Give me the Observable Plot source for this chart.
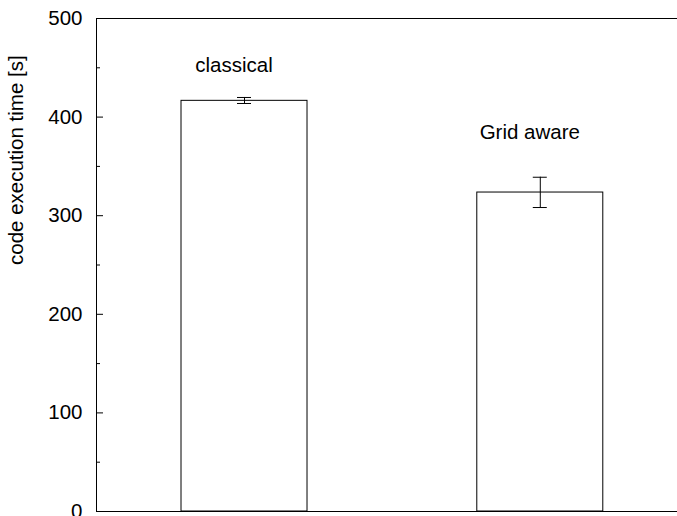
<!DOCTYPE html>
<html>
<head>
<meta charset="utf-8">
<script src="https://cdn.jsdelivr.net/npm/d3@7"></script>
<script src="https://cdn.jsdelivr.net/npm/@observablehq/plot@0.6"></script>
<style>
  html, body { margin: 0; padding: 0; background: #fff; }
</style>
</head>
<body>
<div id="chart"></div>
<script>
const categories = ["classical", "Grid aware"];
const times = [416.5, 323.5];
const errLow = [413.8, 308.3];
const errHigh = [419.9, 339.0];
const labelY = [452, 384];
const yTicks = [0, 100, 200, 300, 400, 500];
const yMinorTicks = [50, 150, 250, 350, 450];
const yLabel = "code execution time [s]";

const data = categories.map((c, i) => ({
  cat: c, time: times[i], lo: errLow[i], hi: errHigh[i], ly: labelY[i]
}));

const chart = Plot.plot({
  width: 677,
  height: 516,
  marginLeft: 96,
  marginRight: 0,
  marginTop: 18,
  marginBottom: 5,
  style: {fontFamily: "'Liberation Sans', Arial, sans-serif", fontSize: "20.5px", color: "black", background: "white"},
  x: {type: "band", domain: categories, range: [96, 687.8], paddingInner: 0.574, paddingOuter: 0.2874, round: false, axis: null},
  y: {domain: [0, 500], axis: null},
  marks: [
    Plot.rectY(data, {x: "cat", y: "time", fill: "white", stroke: "black", strokeWidth: 1}),
    Plot.ruleX(data, {x: "cat", y1: "lo", y2: "hi", stroke: "black"}),
    Plot.tickY(data, {x: "cat", y: "lo", stroke: "black", insetLeft: 56, insetRight: 56}),
    Plot.tickY(data, {x: "cat", y: "hi", stroke: "black", insetLeft: 56, insetRight: 56}),
    Plot.text(data, {x: "cat", y: "ly", text: "cat", dx: -10.5, fontSize: 20.5, fill: "black"}),
    Plot.axisY({ticks: yTicks, tickSize: 0, tickPadding: 14, label: null, fontSize: 20.5}),
    Plot.axisY({ticks: yTicks, tickSize: -7, text: null, label: null}),
    Plot.axisY({ticks: yMinorTicks, tickSize: -4, text: null, label: null}),
    Plot.text([yLabel], {frameAnchor: "left", y: [250], text: d => d, rotate: -90, dx: -80, fontSize: 20.5, fill: "black"}),
    Plot.frame({anchor: "left", stroke: "black"}),
    Plot.frame({anchor: "top", stroke: "black"}),
    Plot.frame({anchor: "bottom", stroke: "black"})
  ]
});
document.getElementById("chart").appendChild(chart);
</script>
</body>
</html>
